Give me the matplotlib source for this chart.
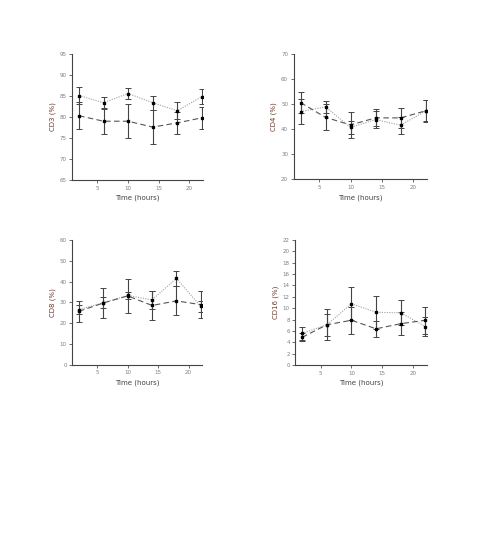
import matplotlib
matplotlib.use("Agg")
import matplotlib.pyplot as plt
import numpy as np

time = [2, 6, 10, 14, 18, 22]

cd3_dot = [85.1, 83.4, 85.6, 83.4, 81.5, 84.8]
cd3_dot_err = [2.0, 1.3, 1.3, 1.7, 2.0, 1.8]
cd3_dash = [80.3, 79.0, 79.0, 77.6, 78.6, 79.8]
cd3_dash_err = [3.2, 3.0, 4.1, 4.0, 2.6, 2.6]

cd4_dot = [47.0, 48.9, 40.7, 43.8, 41.6, 47.2]
cd4_dot_err = [5.0, 2.3, 2.6, 3.4, 3.4, 4.3]
cd4_dash = [50.6, 44.7, 41.7, 44.5, 44.5, 47.3]
cd4_dash_err = [4.2, 5.2, 5.1, 3.4, 4.1, 4.2]

cd8_dot = [26.5, 29.8, 33.3, 31.2, 41.5, 28.0]
cd8_dot_err = [2.0, 2.6, 1.6, 4.2, 3.7, 2.5]
cd8_dash = [25.7, 29.7, 33.1, 28.5, 30.7, 28.9]
cd8_dash_err = [5.1, 7.4, 8.0, 6.8, 7.0, 6.4]

cd16_dot = [5.6, 7.1, 10.8, 9.3, 9.2, 6.8]
cd16_dot_err = [1.1, 2.7, 2.9, 2.9, 2.2, 1.6]
cd16_dash = [4.9, 7.1, 7.9, 6.4, 7.3, 7.9]
cd16_dash_err = [0.7, 1.9, 2.4, 1.4, 2.0, 2.4]

panels = [
    ("CD3 (%)", cd3_dot, cd3_dot_err, cd3_dash, cd3_dash_err, (65, 95), np.arange(65, 96, 5),
     [0.1467, 0.6685, 0.265, 0.232]),
    ("CD4 (%)", cd4_dot, cd4_dot_err, cd4_dash, cd4_dash_err, (20, 70), np.arange(20, 71, 10),
     [0.5957, 0.6698, 0.270, 0.2308]),
    ("CD8 (%)", cd8_dot, cd8_dot_err, cd8_dash, cd8_dash_err, (0, 60), np.arange(0, 61, 10),
     [0.1467, 0.3284, 0.263, 0.2296]),
    ("CD16 (%)", cd16_dot, cd16_dot_err, cd16_dash, cd16_dash_err, (0, 22), np.arange(0, 23, 2),
     [0.599, 0.3273, 0.2665, 0.2309]),
]

fig = plt.figure(figsize=(4.93, 5.43), dpi=100)
fig.patch.set_facecolor("white")

tick_color = "#7a7f88"
for ylabel, dv, de, sv, se, ylim, yt, pos in panels:
    ax = fig.add_axes(pos)
    ax.errorbar(time, dv, yerr=de, color="#a0a0a0", ls=(0, (1, 1.2)), lw=0.8,
                marker="s", ms=2.0, mfc="black", mec="black",
                ecolor="#444444", elinewidth=0.8, capsize=2.2, capthick=0.7)
    ax.errorbar(time, sv, yerr=se, color="#555555", ls=(0, (5, 3)), lw=0.8,
                marker="s", ms=2.0, mfc="black", mec="black",
                ecolor="#444444", elinewidth=0.8, capsize=2.2, capthick=0.7)
    ax.set_xlim(0.9, 22.2)
    ax.set_ylim(*ylim)
    ax.set_yticks(yt)
    ax.set_xticks([5, 10, 15, 20])
    ax.spines["top"].set_visible(False)
    ax.spines["right"].set_visible(False)
    for s in ("left", "bottom"):
        ax.spines[s].set_color("#444444")
        ax.spines[s].set_linewidth(0.8)
    ax.tick_params(axis="both", direction="out", length=2, width=0.6, color="#555555",
                   labelsize=4, labelcolor=tick_color, pad=2)
    ax.set_xlabel("Time (hours)", fontsize=5, color="#444444", labelpad=3)
    ax.set_ylabel(ylabel, fontsize=5, color="#6b3a2a", labelpad=3)

fig.savefig("out.png", dpi=100, facecolor="white")
